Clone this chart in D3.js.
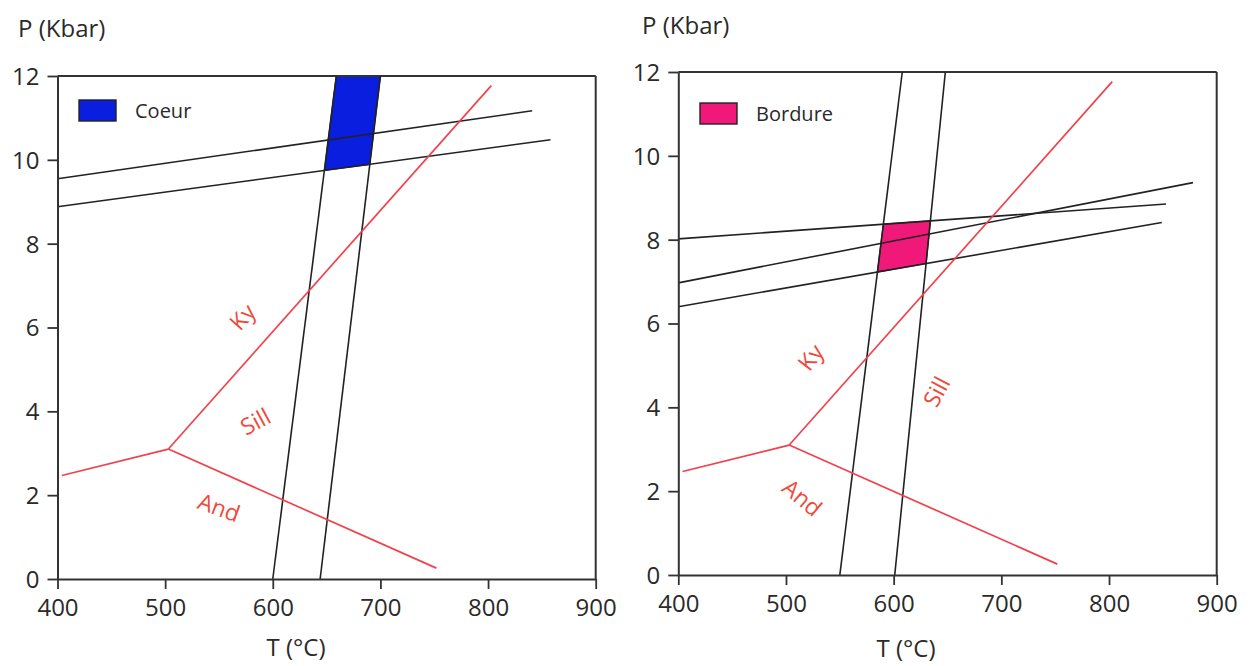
<!DOCTYPE html>
<html><head><meta charset="utf-8">
<script src="https://cdn.jsdelivr.net/npm/d3@7"></script>
<style>html,body{margin:0;padding:0;background:#fff;}svg{display:block;font-family:"Open Sans",sans-serif;}</style>
</head><body>
<svg id="c" width="1258" height="666"></svg>
<script>
// ---- Data ----
const tempTicks = [400, 500, 600, 700, 800, 900];
const pressTicks = [0, 2, 4, 6, 8, 10, 12];
const tempDomain = [400, 900];
const pressDomain = [0, 12];

// Al2SiO5 phase diagram (same in both panels): [T, P]
const kyAndLine = [[404, 2.47], [503, 3.1]];
const andSillLine = [[503, 3.1], [752, 0.26]];
const kySillLine = [[503, 3.1], [803, 11.77]];
const phaseLabels = [
  { panel: 0, text: "Ky", T: 572, P: 6.25, angle: -48 },
  { panel: 0, text: "Sill", T: 584, P: 3.75, angle: -28 },
  { panel: 0, text: "And", T: 550, P: 1.7, angle: 20 },
  { panel: 1, text: "Ky", T: 523, P: 5.19, angle: -52 },
  { panel: 1, text: "Sill", T: 640, P: 4.37, angle: -62 },
  { panel: 1, text: "And", T: 515, P: 1.84, angle: 40 }
];

// Left panel (Coeur) isopleths
const coeurSteep1 = [[600, 0], [659, 12]];
const coeurSteep2 = [[644, 0], [700, 12]];
const coeurFlat1 = [[400, 9.55], [841, 11.17]];
const coeurFlat2 = [[400, 8.88], [858, 10.48]];
const coeurField = [[659, 12], [700, 12], [690, 9.89], [648, 9.75]];

// Right panel (Bordure) isopleths
const bordSteep1 = [[550, 0], [608, 12]];
const bordSteep2 = [[601, 0], [648, 12]];
const bordFlat1 = [[400, 8.02], [853, 8.85]];
const bordFlat2 = [[400, 6.97], [878, 9.36]];
const bordFlat3 = [[400, 6.40], [849, 8.41]];
const bordField = [[590.4, 8.37], [634.1, 8.45], [630.1, 7.43], [584.9, 7.23]];

const legendNames = ["Coeur", "Bordure"];
const fieldColors = ["#0a1ee0", "#f0197a"];
const axisTitleY = "P (Kbar)";
const axisTitleX = "T (°C)";

// ---- Drawing ----
const svg = d3.select("#c");
const panels = [
  { x: [57.5, 595.7], y: [579, 76], iso: [coeurSteep1, coeurSteep2, coeurFlat1, coeurFlat2], field: coeurField,
    titleY: [18, 37], titleX: [296, 656], leg: [79, 100] },
  { x: [678.3, 1216.7], y: [575, 72], iso: [bordSteep1, bordSteep2, bordFlat1, bordFlat2, bordFlat3], field: bordField,
    titleY: [642, 34], titleX: [906, 657], leg: [700, 103] }
];
const RED = "#f0424c", TXTRED = "#ee4a3c", INK = "#222";

panels.forEach((p, i) => {
  const x = d3.scaleLinear().domain(tempDomain).range(p.x);
  const y = d3.scaleLinear().domain(pressDomain).range(p.y);
  const g = svg.append("g");
  const line = d3.line().x(d => x(d[0])).y(d => y(d[1]));

  // field
  g.append("path").datum(p.field).attr("d", d3.line().x(d => x(d[0])).y(d => y(d[1])).curve(d3.curveLinearClosed))
    .attr("fill", fieldColors[i]).attr("stroke", INK).attr("stroke-width", 1.2);

  // frame top/right
  g.append("line").attr("x1", x(400)).attr("x2", x(900)).attr("y1", y(12)).attr("y2", y(12)).attr("stroke", "#333").attr("stroke-width", 2);
  g.append("line").attr("x1", x(900)).attr("x2", x(900)).attr("y1", y(0)).attr("y2", y(12)).attr("stroke", "#333").attr("stroke-width", 2);

  // isopleths
  p.iso.forEach(l => g.append("path").datum(l).attr("d", line).attr("fill", "none").attr("stroke", INK).attr("stroke-width", 1.6));

  // phase lines
  [kyAndLine, andSillLine, kySillLine].forEach(l =>
    g.append("path").datum(l).attr("d", line).attr("fill", "none").attr("stroke", RED).attr("stroke-width", 1.7));

  // axes
  const xa = g.append("g").attr("transform", `translate(0,${y(0)})`)
    .call(d3.axisBottom(x).tickValues(tempTicks).tickSize(10).tickPadding(8).tickSizeOuter(0));
  const ya = g.append("g").attr("transform", `translate(${x(400)},0)`)
    .call(d3.axisLeft(y).tickValues(pressTicks).tickSize(10).tickPadding(8).tickSizeOuter(0));
  [xa, ya].forEach(a => {
    a.select(".domain").attr("stroke", "#333").attr("stroke-width", 2);
    a.selectAll(".tick line").attr("stroke", "#333").attr("stroke-width", 1.8);
    a.selectAll("text").attr("font-family", "Open Sans, sans-serif").attr("font-size", 24).attr("fill", "#2a2a2a");
  });
  xa.selectAll("text").attr("dy", "0.8em");
  ya.selectAll("text").attr("dy", "0.35em");

  // axis titles
  g.append("text").attr("x", p.titleY[0]).attr("y", p.titleY[1]).text(axisTitleY)
    .attr("font-size", 24).attr("fill", "#2a2a2a");
  g.append("text").attr("x", p.titleX[0]).attr("y", p.titleX[1]).attr("text-anchor", "middle").text(axisTitleX)
    .attr("font-size", 24).attr("fill", "#2a2a2a");

  // legend
  g.append("rect").attr("x", p.leg[0]).attr("y", p.leg[1]).attr("width", 37).attr("height", 21)
    .attr("fill", fieldColors[i]).attr("stroke", INK).attr("stroke-width", 1.4);
  g.append("text").attr("x", p.leg[0] + 56).attr("y", p.leg[1] + 18).text(legendNames[i])
    .attr("font-size", 20).attr("fill", "#2a2a2a");

  // phase labels
  phaseLabels.filter(l => l.panel === i).forEach(l => {
    g.append("text").attr("transform", `translate(${x(l.T)},${y(l.P)}) rotate(${l.angle})`)
      .attr("text-anchor", "middle").attr("dy", "0.35em").text(l.text)
      .attr("font-size", 23).attr("fill", TXTRED);
  });
});
</script>
</body></html>
